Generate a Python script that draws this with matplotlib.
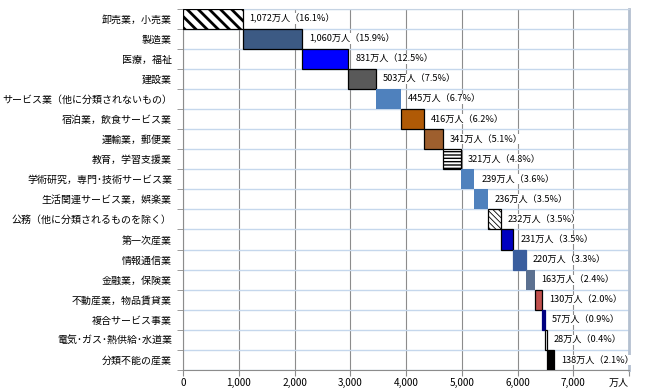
import matplotlib
matplotlib.use('Agg')
import matplotlib.pyplot as plt
import numpy as np

plt.rcParams['font.family'] = ['Noto Sans CJK JP', 'DejaVu Sans']

categories = ['卸売業，小売業', '製造業', '医療，福祉', '建設業', 'サービス業（他に分類されないもの）',
              '宿泊業，飲食サービス業', '運輸業，郵便業', '教育，学習支援業', '学術研究，専門･技術サービス業',
              '生活関連サービス業，娯楽業', '公務（他に分類されるものを除く）', '第一次産業', '情報通信業',
              '金融業，保険業', '不動産業，物品賃貸業', '複合サービス事業', '電気･ガス･熱供給･水道業', '分類不能の産業']
values = [1072, 1060, 831, 503, 445, 416, 341, 321, 239, 236, 232, 231, 220, 163, 130, 57, 28, 138]
pcts = ['16.1', '15.9', '12.5', '7.5', '6.7', '6.2', '5.1', '4.8', '3.6', '3.5', '3.5', '3.5', '3.3', '2.4', '2.0', '0.9', '0.4', '2.1']
xticks = [0, 1000, 2000, 3000, 4000, 5000, 6000, 7000, 8000]
xticklabels = ['0', '1,000', '2,000', '3,000', '4,000', '5,000', '6,000', '7,000', '万人']

colors = ['white', '#3C5A84', '#0000FF', '#595959', '#4F81BD', '#B05A06', '#9E5F2E', 'white', '#4F81BD',
          '#4F81BD', 'white', '#0000C0', '#3A5E9E', '#5B7090', '#C0504D', '#000080', 'white', '#000000']
edges = ['black', 'black', 'black', 'black', 'none', 'black', 'black', 'black', 'none',
         'none', 'black', 'black', '#3A5E9E', 'none', 'black', '#000080', 'black', 'black']
hatches = ['\\\\\\', None, None, None, None, None, None, '-----', None,
           None, '\\\\\\\\\\\\', None, None, None, None, None, None, None]
hatch_lw = {0: 2.0, 7: 1.0, 10: 0.6}

fig = plt.figure(figsize=(6.45, 3.92), dpi=100)
ax = fig.add_axes([183/645, 1-370/392, (629-183)/645, (370-8.5)/392])

lefts = np.concatenate([[0], np.cumsum(values)[:-1]])
y = np.arange(len(values))
for i in range(len(values)):
    plt.rcParams['hatch.linewidth'] = hatch_lw.get(i, 1.0)
    ax.barh(y[i], values[i], left=lefts[i], height=1.0, color=colors[i], edgecolor=edges[i],
            linewidth=0.9, hatch=hatches[i], zorder=3)
    ax.annotate(f'{values[i]:,}万人（{pcts[i]}%）', (lefts[i]+values[i], y[i]), xytext=(5, 0),
                textcoords='offset points', va='center', ha='left', fontsize=6.6,
                bbox=dict(facecolor='white', edgecolor='none', pad=0.3), zorder=4)

ax.set_xlim(0, 8000)
ax.set_ylim(len(values)-0.5, -0.5)
ax.set_xticks(xticks)
ax.set_xticklabels(xticklabels, fontsize=7.2)
ax.get_xticklabels()[-1].set_horizontalalignment('right')
ax.set_yticks(y)
ax.set_yticklabels(categories, fontsize=7.2)
ax.set_yticks(np.arange(len(values)+1)-0.5, minor=True)
ax.tick_params(axis='y', which='major', length=0, pad=8)
ax.tick_params(axis='y', which='minor', length=4, color='#8C8C8C')
ax.tick_params(axis='x', length=4, color='#8C8C8C', pad=2)
ax.grid(axis='y', which='minor', color='#C5D7EC', linewidth=1.0, zorder=1)
ax.grid(axis='x', which='major', color='#8C8C8C', linewidth=0.8, zorder=1)
ax.set_axisbelow(True)
ax.spines['left'].set_color('#8C8C8C')
ax.spines['bottom'].set_color('#8C8C8C')
ax.spines['top'].set_color('#C5D3E3')
ax.spines['right'].set_color('#B4C0D0')
ax.spines['right'].set_linewidth(2)

fig.savefig('out.png', dpi=100)
